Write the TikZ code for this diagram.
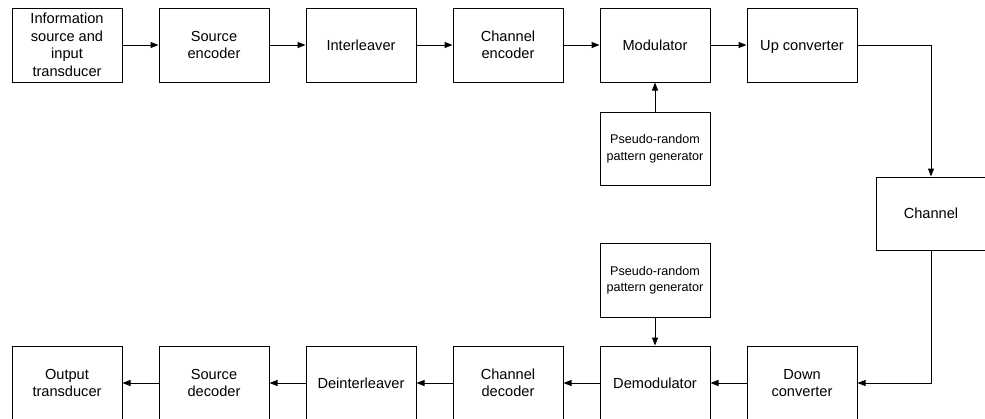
\documentclass[tikz,border=0pt]{standalone}
\usepackage{fontspec}
\setmainfont{Liberation Sans}
\usetikzlibrary{arrows.meta}
\begin{document}
\begin{tikzpicture}[x=1pt,y=-1pt,
  blk/.style={draw=black, line width=1pt, minimum width=110pt, minimum height=74pt, inner sep=0pt, align=center,
    font=\fontsize{14.6}{17.5}\selectfont},
  small/.style={font=\fontsize{12.6}{16.5}\selectfont},
  conn/.style={line width=1pt, -{Triangle[length=8pt,width=6pt]}}]
\useasboundingbox (0,0) rectangle (985,418);
\node[blk] (src) at (67,45) {Information\\source and\\input\\transducer};
\node[blk] (senc) at (214,45) {Source\\encoder};
\node[blk] (intl) at (361,45) {Interleaver};
\node[blk] (cenc) at (508,45) {Channel\\encoder};
\node[blk] (mod) at (655,45) {Modulator};
\node[blk,text depth=0pt] (up) at (802,45) {Up converter};
\node[blk,small,minimum height=73pt] (pn1) at (655,148.5) {Pseudo-random\\pattern generator};
\node[blk,minimum height=73pt] (ch) at (931,213.5) {Channel};
\node[blk,small] (pn2) at (655,280) {Pseudo-random\\pattern generator};
\node[blk] (out) at (67,383) {Output\\transducer};
\node[blk] (sdec) at (214,383) {Source\\decoder};
\node[blk] (dint) at (361,383) {Deinterleaver};
\node[blk] (cdec) at (508,383) {Channel\\decoder};
\node[blk] (dem) at (655,383) {Demodulator};
\node[blk] (down) at (802,383) {Down\\converter};
\draw[conn] (src) -- (senc);
\draw[conn] (senc) -- (intl);
\draw[conn] (intl) -- (cenc);
\draw[conn] (cenc) -- (mod);
\draw[conn] (mod) -- (up);
\draw[conn] (pn1) -- (mod);
\draw[conn] (up.east) -| (ch.north);
\draw[conn] (ch.south) |- (down.east);
\draw[conn] (pn2) -- (dem);
\draw[conn] (down) -- (dem);
\draw[conn] (dem) -- (cdec);
\draw[conn] (cdec) -- (dint);
\draw[conn] (dint) -- (sdec);
\draw[conn] (sdec) -- (out);
\end{tikzpicture}
\end{document}
